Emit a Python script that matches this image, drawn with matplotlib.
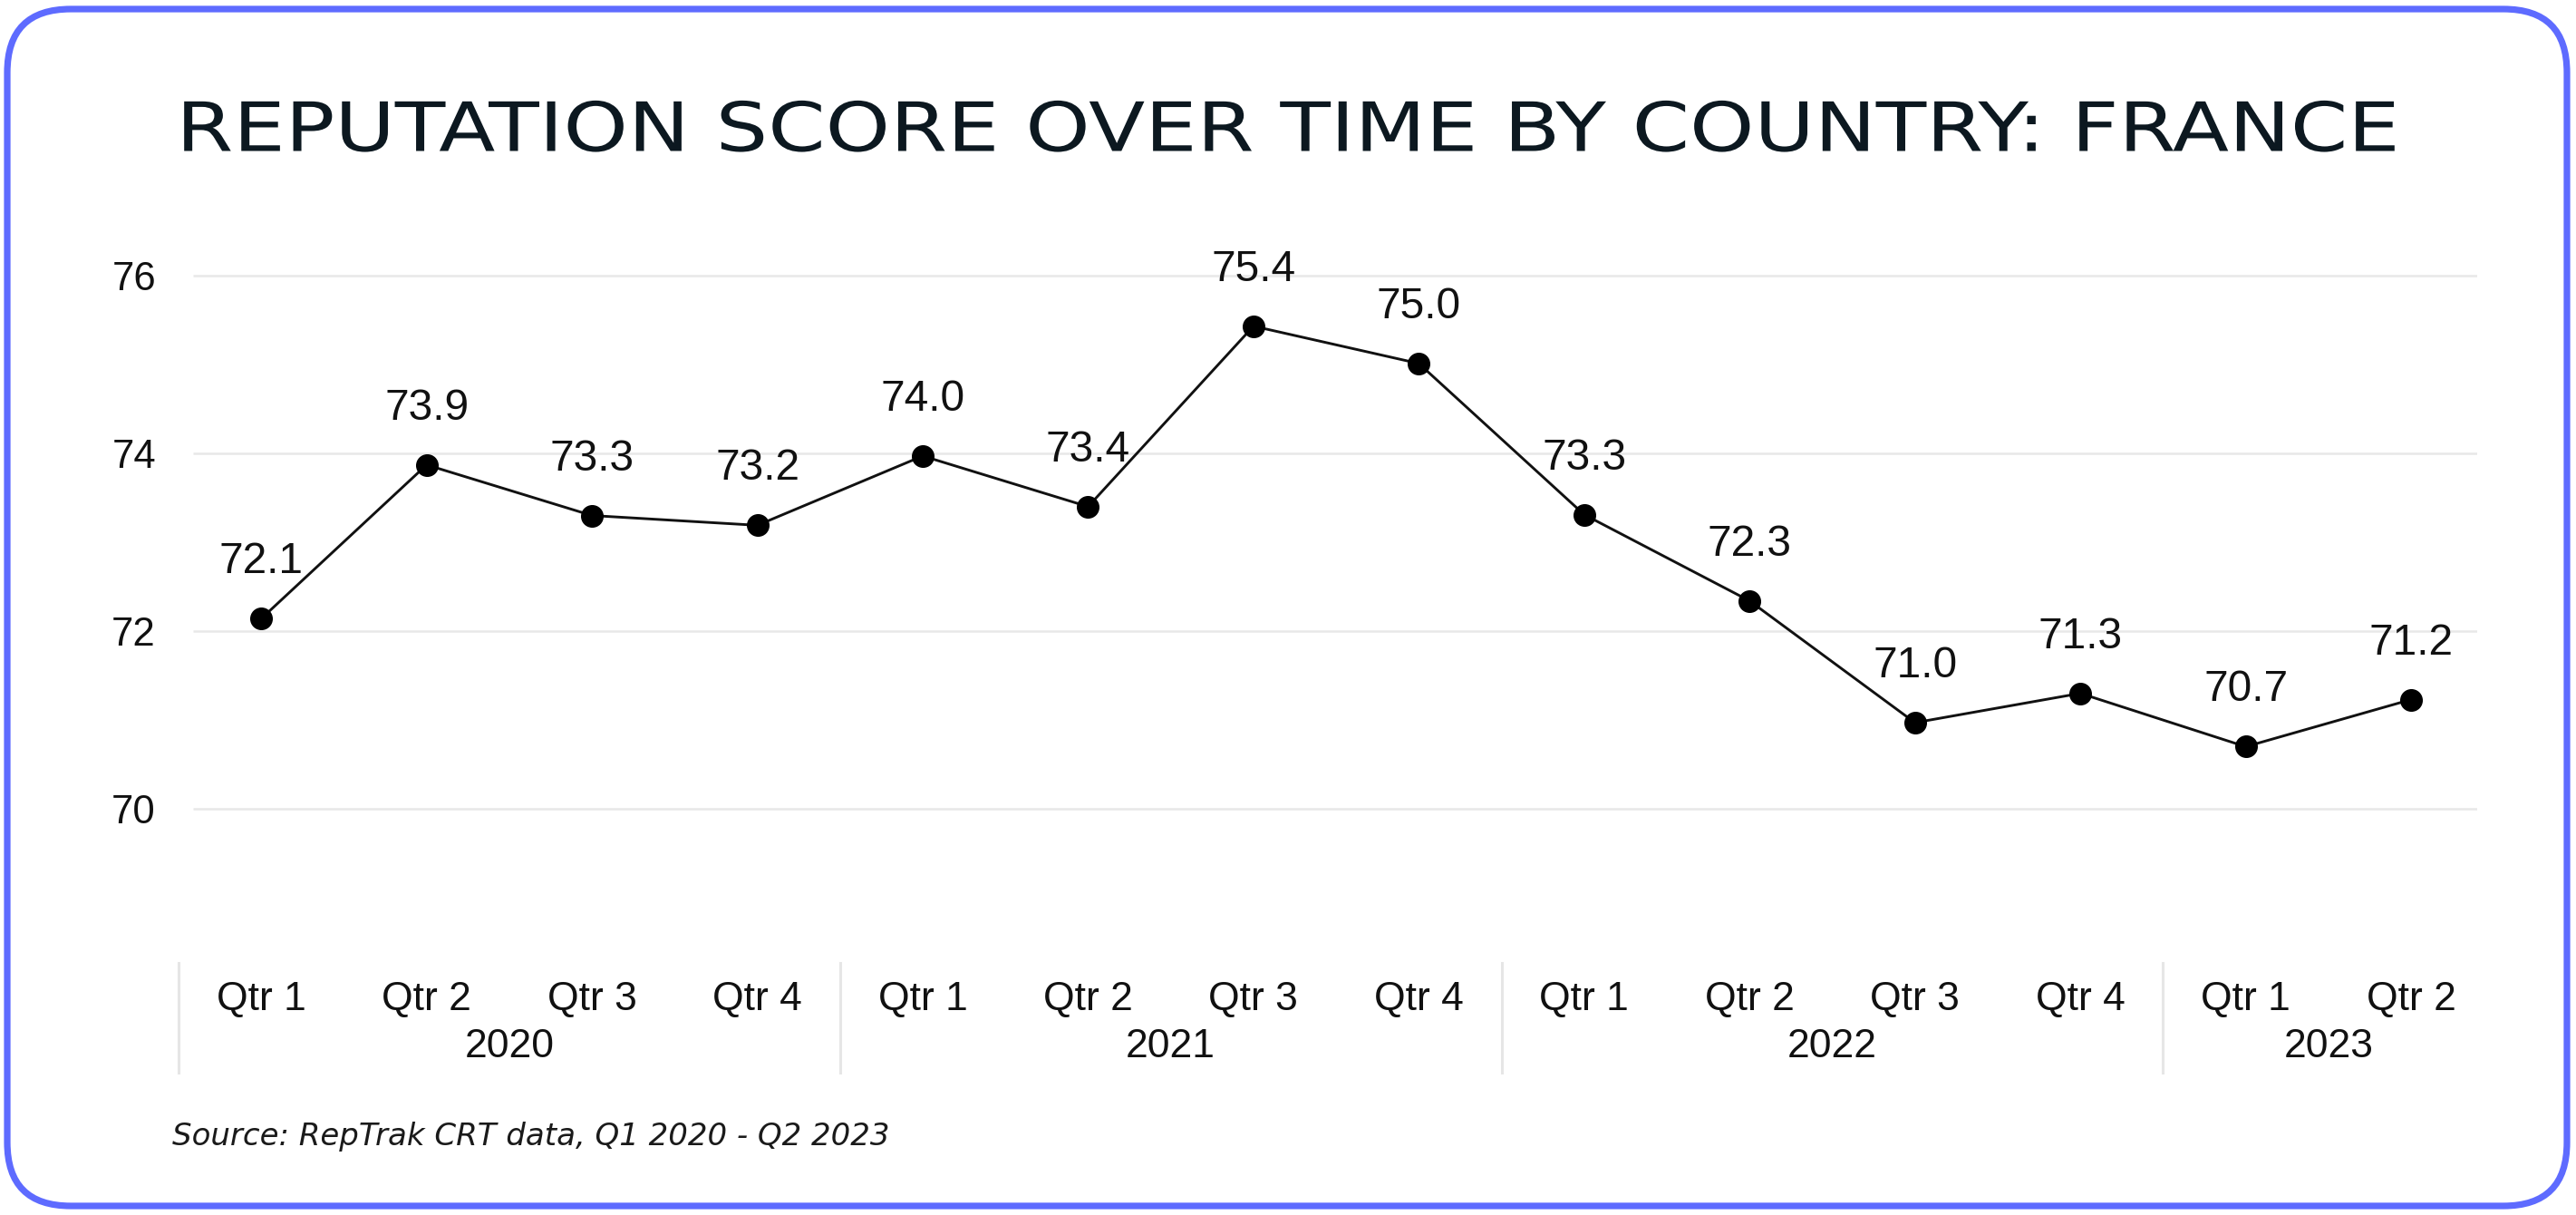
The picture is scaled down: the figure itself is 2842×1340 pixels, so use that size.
import matplotlib
matplotlib.use("Agg")
import matplotlib.pyplot as plt
import matplotlib.transforms as mtransforms
from matplotlib.patches import FancyBboxPatch
from matplotlib.patheffects import AbstractPathEffect

# ---- data ----
years = ["2020", "2021", "2022", "2023"]
quarters = ["Qtr 1", "Qtr 2", "Qtr 3", "Qtr 4", "Qtr 1", "Qtr 2", "Qtr 3", "Qtr 4",
            "Qtr 1", "Qtr 2", "Qtr 3", "Qtr 4", "Qtr 1", "Qtr 2"]
quarter_year = ["2020"] * 4 + ["2021"] * 4 + ["2022"] * 4 + ["2023"] * 2
scores = [72.14, 73.87, 73.30, 73.19, 73.97, 73.40, 75.43, 75.01,
          73.31, 72.34, 70.97, 71.30, 70.70, 71.23]
y_ticks = [70, 72, 74, 76]

title = "REPUTATION SCORE OVER TIME BY COUNTRY: FRANCE"
source = "Source: RepTrak CRT data, Q1 2020 - Q2 2023"

W, H, DPI = 2842, 1340, 100


class HStretch(AbstractPathEffect):
    """Stretch drawn glyphs horizontally about a centre x (display px)."""
    def __init__(self, sx, cx):
        super().__init__()
        self.sx = sx
        self.cx = cx

    def draw_path(self, renderer, gc, tpath, affine, rgbFace=None):
        t = affine + mtransforms.Affine2D().translate(-self.cx, 0).scale(self.sx, 1).translate(self.cx, 0)
        renderer.draw_path(gc, tpath, t, rgbFace)


fig = plt.figure(figsize=(W / DPI, H / DPI), dpi=DPI)
fig.patch.set_facecolor("white")

# rounded border
border = FancyBboxPatch((8 / DPI, 10 / DPI), (W - 18) / DPI, (H - 20) / DPI,
                        boxstyle="round,pad=0,rounding_size=0.7",
                        transform=fig.dpi_scale_trans, fill=False,
                        edgecolor="#5E6BFF", linewidth=5.2, zorder=0)
fig.patches.append(border)

left_px, right_px = 197, 2733
top_px, bottom_px = 245, 1049
ax = fig.add_axes([left_px / W, 1 - bottom_px / H,
                   (right_px - left_px) / W, (bottom_px - top_px) / H])
ax.set_facecolor("none")

x = list(range(len(scores)))
ax.set_xlim(-0.5, 13.4)
ax.set_ylim(68.4, 76.6)

# gridlines
ax.hlines(y_ticks, -0.41, 13.4, colors="#e8e8e8", linewidth=1.8, zorder=1)

ax.plot(x, scores, color="#111111", linewidth=2.1, zorder=3,
        marker="o", markersize=17, markerfacecolor="black", markeredgecolor="black")

label_font = "Liberation Sans"
for xi, v in zip(x, scores):
    ax.annotate(f"{v:.1f}", (xi, v), xytext=(0, 40), textcoords="offset pixels",
                ha="center", va="bottom", fontsize=34.5, family=label_font, color="#111111",
                zorder=4)

for s in ax.spines.values():
    s.set_visible(False)
ax.set_yticks(y_ticks)
ax.set_yticklabels([str(t) for t in y_ticks], fontsize=31.5, family=label_font, color="#111111")
ax.tick_params(axis="y", length=0, pad=18)
ax.set_xticks([])

# x labels: quarters and years
trans = mtransforms.blended_transform_factory(ax.transData, fig.transFigure)
for xi, q in zip(x, quarters):
    ax.text(xi, 1 - 1102 / H, q, transform=trans, ha="center", va="center",
            fontsize=32, family=label_font, color="#111111")
for yr in years:
    idx = [i for i, qy in enumerate(quarter_year) if qy == yr]
    ax.text((idx[0] + idx[-1]) / 2, 1 - 1154 / H, yr, transform=trans, ha="center",
            va="center", fontsize=32, family=label_font, color="#111111")
    ax.plot([idx[0] - 0.5, idx[0] - 0.5], [1 - 1062 / H, 1 - 1183 / H], transform=trans,
            color="#e6e6e6", linewidth=2.2, clip_on=False)

fig.text(0.5, 1 - 146 / H, title, ha="center", va="center", fontsize=54,
         family="DejaVu Sans", color="#0c1820",
         path_effects=[HStretch(1.21, W / 2)])
fig.text(190 / W, 1 - 1253 / H, source, ha="left", va="center", fontsize=24.5,
         family="DejaVu Sans", style="italic", color="#1a1a1a")

fig.savefig("out.png", dpi=DPI, facecolor="white")
